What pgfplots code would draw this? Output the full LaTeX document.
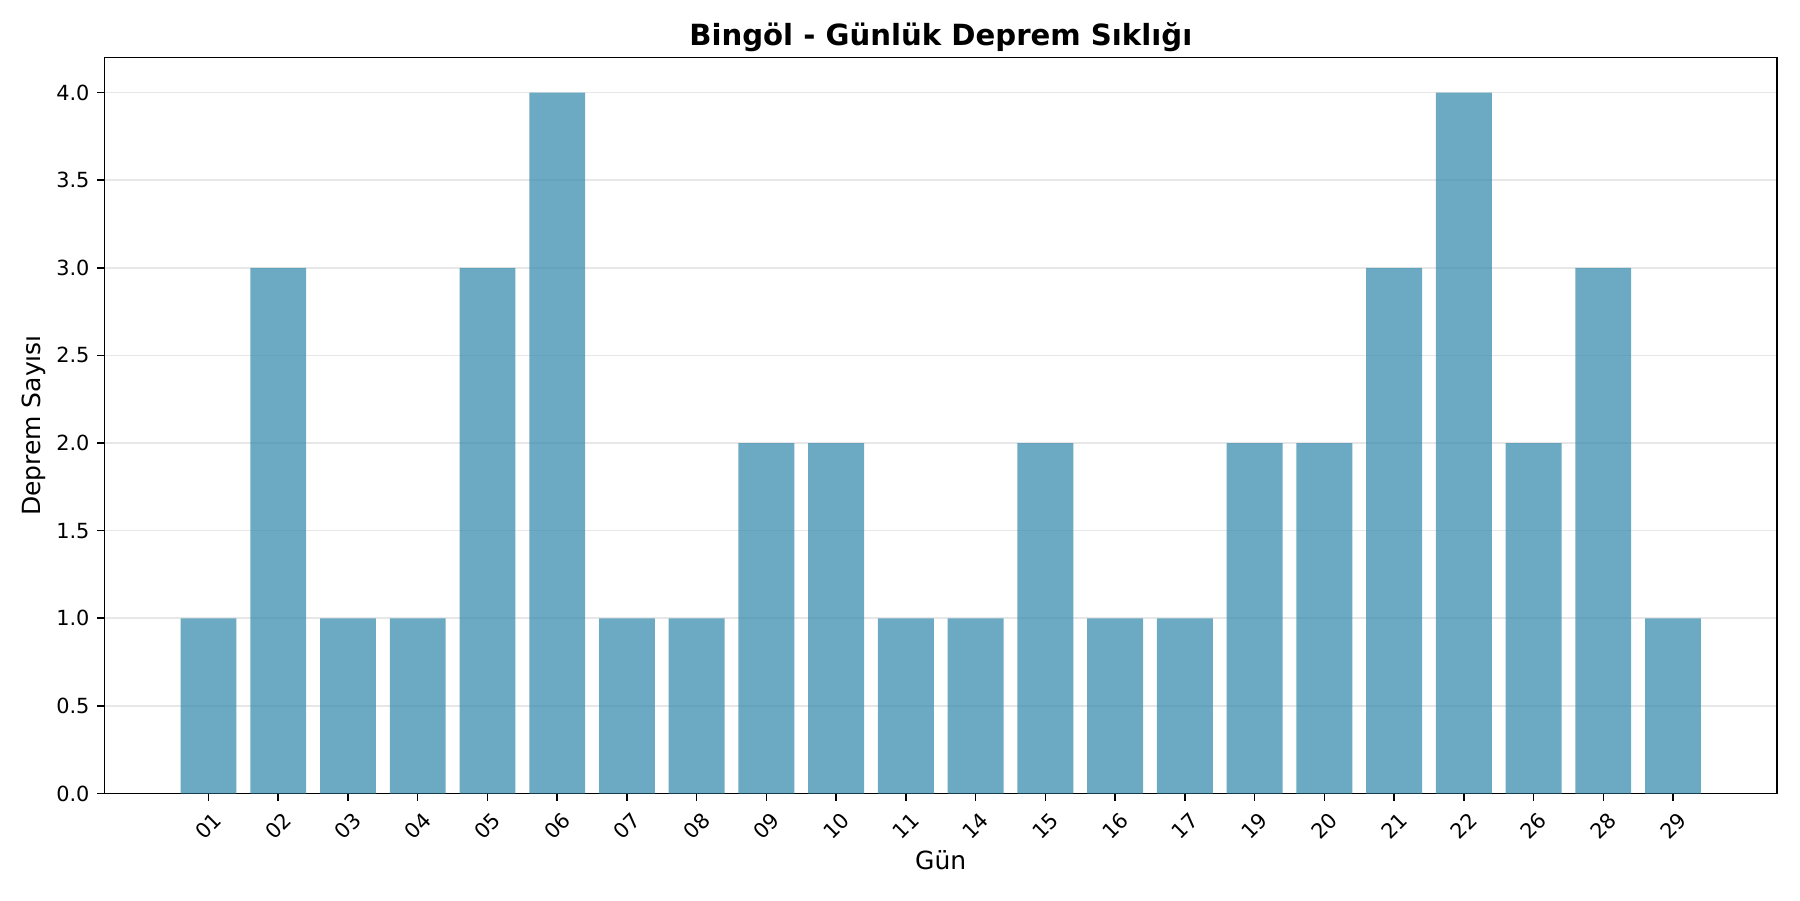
\documentclass[border=0pt]{standalone}
\usepackage{pgfplots}
\pgfplotsset{compat=1.18}
\usepackage{fontspec}
\setmainfont{DejaVu Sans}

\definecolor{barblue}{HTML}{2E86AB}
\definecolor{gridgray}{HTML}{B0B0B0}

\begin{document}
\begin{tikzpicture}
% figure frame: 864 x 432, axis box at the origin
\path[use as bounding box] (-50.16pt,-51.12pt) rectangle (813.84pt,380.88pt);
\begin{axis}[
    at={(0,0)}, anchor=south west,
    scale only axis,
    width=802.8pt, height=353.28pt,
    xmin=-1.49, xmax=22.49,
    ymin=0, ymax=4.2,
    xtick={0,...,21},
    xticklabels={01,02,03,04,05,06,07,08,09,10,11,14,15,16,17,19,20,21,22,26,28,29},
    ytick={0,0.5,1,1.5,2,2.5,3,3.5,4},
    yticklabel style={anchor=east, /pgf/number format/fixed, /pgf/number format/fixed zerofill,
        /pgf/number format/precision=1},
    /pgf/number format/assume math mode=true,
    tick label style={font=\fontsize{10}{12}\selectfont, inner sep=0pt},
    xticklabel style={rotate=45, anchor=center},
    xticklabel shift={12.1pt},
    yticklabel shift={3.5pt},
    tick align=outside,
    major tick length=3.5pt,
    tick style={black, line width=0.8pt},
    xtick pos=bottom, ytick pos=left,
    axis line style={black, line width=0.8pt},
    ymajorgrids,
    grid style={gridgray, opacity=0.3, line width=0.8pt},
    every axis title/.style={at={(0.5,1)}, anchor=base, yshift=5.6pt, inner sep=0pt,
        font=\fontsize{14}{16.8}\selectfont\bfseries},
    title={Bingöl - Günlük Deprem Sıklığı},
    every axis x label/.style={at={(0.5,0)}, anchor=base, yshift=-36.4pt, inner sep=0pt,
        font=\fontsize{12}{14.4}\selectfont},
    xlabel={Gün},
    every axis y label/.style={at={(0,0.5)}, xshift=-33.9pt, rotate=90, anchor=center, inner sep=0pt,
        font=\fontsize{12}{14.4}\selectfont},
    ylabel={Deprem Sayısı},
]
\addplot[ybar, bar width=0.8, bar shift=0pt, fill=barblue, fill opacity=0.7, draw=none]
coordinates {
    (0,1) (1,3) (2,1) (3,1) (4,3) (5,4) (6,1) (7,1) (8,2) (9,2) (10,1)
    (11,1) (12,2) (13,1) (14,1) (15,2) (16,2) (17,3) (18,4) (19,2) (20,3) (21,1)
};
\end{axis}
\end{tikzpicture}
\end{document}
